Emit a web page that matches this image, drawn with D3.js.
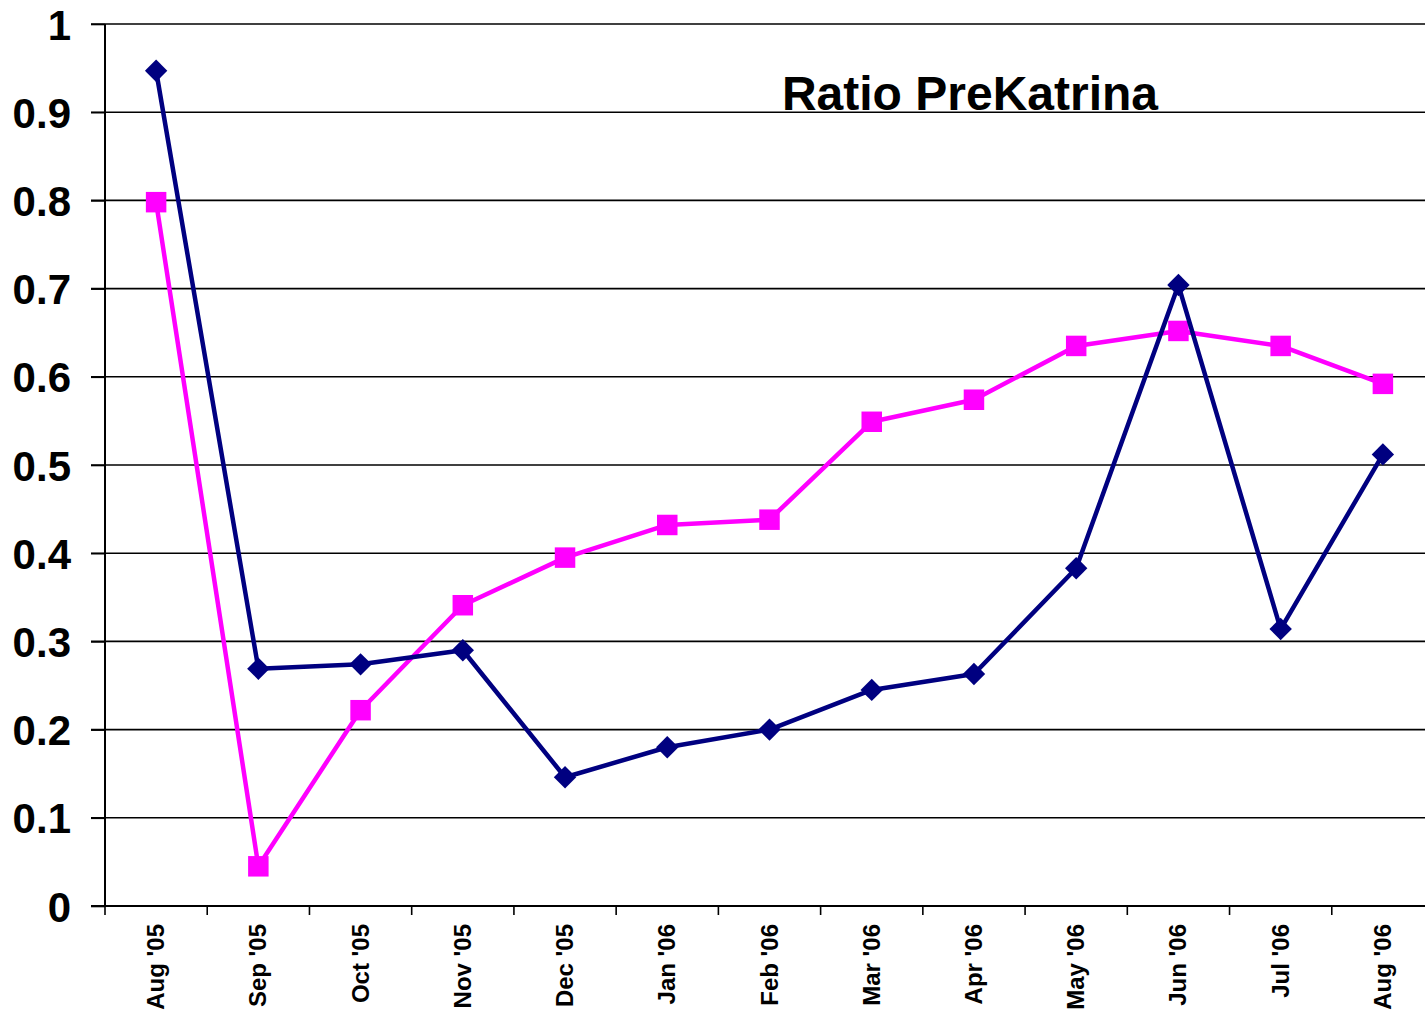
<!DOCTYPE html>
<html>
<head>
<meta charset="utf-8">
<script src="https://cdn.jsdelivr.net/npm/d3@7"></script>
<style>
    body { margin: 0; background: #fff; overflow: hidden; }
    svg { display: block; font-family: "Liberation Sans", Arial, sans-serif; }
</style>
</head>
<body>
<svg width="1425" height="1012"></svg>
<script>
const months = ["Aug '05", "Sep '05", "Oct '05", "Nov '05", "Dec '05", "Jan '06", "Feb '06",
    "Mar '06", "Apr '06", "May '06", "Jun '06", "Jul '06", "Aug '06"];
const navySeries = [0.947, 0.269, 0.274, 0.290, 0.146, 0.180, 0.200, 0.245, 0.263, 0.383, 0.704, 0.314, 0.512];
const pinkSeries = [0.798, 0.045, 0.222, 0.341, 0.395, 0.432, 0.438, 0.549, 0.574, 0.635, 0.652, 0.635, 0.592];
const yTicks = [0, 0.1, 0.2, 0.3, 0.4, 0.5, 0.6, 0.7, 0.8, 0.9, 1];
const title = "Ratio PreKatrina";

const svg = d3.select("svg");
const plotLeft = 105, plotRight = 1434, plotTop = 24, plotBottom = 906;

let x = d3.scaleBand()
    .domain(months)
    .range([plotLeft, plotRight]);
let y = d3.scaleLinear()
    .domain([0, 1])
    .range([plotBottom, plotTop]);

// gridlines
svg.append("g")
    .selectAll("line")
    .data(yTicks.filter(d => d > 0))
    .join("line")
    .attr("x1", plotLeft - 14)
    .attr("x2", 1425)
    .attr("y1", d => y(d))
    .attr("y2", d => y(d))
    .attr("stroke", "#000")
    .attr("stroke-width", 1.6);

// y axis
let yAxis = d3.axisLeft(y)
    .tickValues(yTicks)
    .tickFormat(d => d === 0 ? "0" : d === 1 ? "1" : d3.format(".1f")(d))
    .tickSize(14)
    .tickPadding(20);
let yg = svg.append("g")
    .attr("transform", "translate(" + plotLeft + ",0)")
    .call(yAxis);
yg.select(".domain").attr("stroke-width", 2).attr("d", "M0," + plotTop + "V" + plotBottom);
yg.selectAll(".tick line").attr("stroke-width", 1.6);
yg.selectAll("text")
    .attr("font-size", 42)
    .attr("font-weight", "bold")
    .attr("fill", "#000")
    .attr("dy", "0.36em");

// x axis
let xg = svg.append("g")
    .attr("transform", "translate(0," + plotBottom + ")");
xg.append("line")
    .attr("x1", plotLeft - 14)
    .attr("x2", 1425)
    .attr("stroke", "#000")
    .attr("stroke-width", 2);
xg.selectAll(".xtick")
    .data(months)
    .join("line")
    .attr("class", "xtick")
    .attr("x1", d => x(d))
    .attr("x2", d => x(d))
    .attr("y1", 0)
    .attr("y2", 9)
    .attr("stroke", "#000")
    .attr("stroke-width", 1.6);
xg.selectAll("text")
    .data(months)
    .join("text")
    .attr("transform", d => "translate(" + (x(d) + x.bandwidth() / 2 + 8) + ",18) rotate(-90)")
    .attr("text-anchor", "end")
    .attr("font-size", 24)
    .attr("font-weight", "bold")
    .text(d => d);

// series
const series = [
    { values: pinkSeries, color: "#ff00ff", symbol: d3.symbolSquare, size: 420 },
    { values: navySeries, color: "#000080", symbol: d3.symbolDiamond2, size: 320 }
];
let line = d3.line()
    .x((d, i) => x(months[i]) + x.bandwidth() / 2)
    .y(d => y(d));

series.forEach(s => {
    svg.append("path")
        .datum(s.values)
        .attr("fill", "none")
        .attr("stroke", s.color)
        .attr("stroke-width", 4.5)
        .attr("stroke-linejoin", "round")
        .attr("d", line);
    svg.append("g")
        .selectAll("path")
        .data(s.values)
        .join("path")
        .attr("transform", (d, i) => "translate(" + (x(months[i]) + x.bandwidth() / 2) + "," + y(d) + ")")
        .attr("d", d3.symbol().type(s.symbol).size(s.size))
        .attr("fill", s.color);
});

// title
svg.append("text")
    .attr("x", 970)
    .attr("y", 110)
    .attr("text-anchor", "middle")
    .attr("font-size", 48)
    .attr("font-weight", "bold")
    .text(title);
</script>
</body>
</html>
